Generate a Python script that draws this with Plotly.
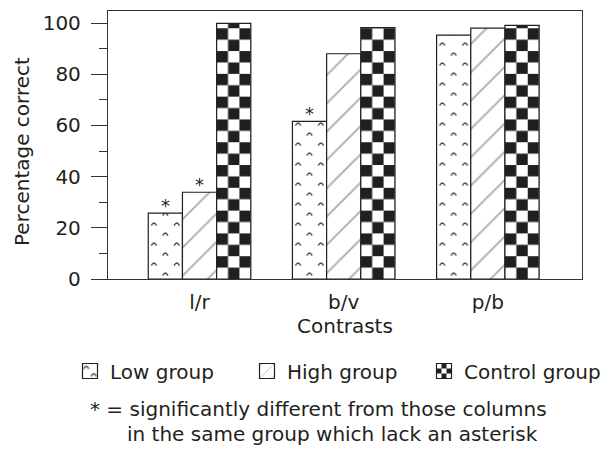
import plotly.graph_objects as go

categories = ["l/r", "b/v", "p/b"]
series_names = ["Low group", "High group", "Control group"]
low_values = [25.7, 61.6, 95.3]
high_values = [33.9, 88.0, 98.0]
control_values = [99.9, 98.2, 99.1]
low_sig = [True, True, False]
high_sig = [True, False, False]
control_sig = [False, False, False]
y_ticks = [0, 20, 40, 60, 80, 100]
y_title = "Percentage correct"
x_title = "Contrasts"
note_line1 = "* = significantly different from those columns"
note_line2 = "in the same group which lack an asterisk"

FONT = "DejaVu Sans"
INK = "#231f20"
FS = 20

# layout geometry (pixels)
W, H = 610, 453
ML, MR, MT, MB = 108, 28, 11, 174
PW = W - ML - MR
PH = H - MT - MB

BARGAP = 0.2885
bar_w = (1 - BARGAP) / 3
xpos = list(range(len(categories)))

fig = go.Figure()
line = dict(color=INK, width=1.2)
fig.add_trace(go.Bar(
    name=series_names[0], x=xpos, y=low_values,
    marker=dict(color="white", line=line,
                pattern=dict(shape=".", size=10, solidity=0.06, fgcolor="#444", bgcolor="white", fillmode="overlay")),
))
fig.add_trace(go.Bar(
    name=series_names[1], x=xpos, y=high_values,
    marker=dict(color="white", line=line,
                pattern=dict(shape="/", size=20, solidity=0.1, fgcolor="#666", bgcolor="white", fillmode="overlay")),
))
fig.add_trace(go.Bar(
    name=series_names[2], x=xpos, y=control_values,
    marker=dict(color="white", line=line,
                pattern=dict(shape="+", size=22, solidity=0.5, fgcolor=INK, bgcolor="white", fillmode="overlay")),
))

annotations = []
for k, (vals, sig) in enumerate([(low_values, low_sig), (high_values, high_sig), (control_values, control_sig)]):
    off = (k - 1) * bar_w
    for i, (v, s) in enumerate(zip(vals, sig)):
        if s:
            annotations.append(dict(
                x=xpos[i] + off, y=v, xref="x", yref="y", text="*", showarrow=False,
                yanchor="middle", xanchor="center", yshift=8,
                font=dict(family=FONT, size=18, color=INK)))

def px_to_paper_x(px):
    return (px - ML) / PW

def px_to_paper_y(py):
    return (MT + PH - py) / PH

annotations.append(dict(
    x=px_to_paper_x(22), y=px_to_paper_y(152), xref="paper", yref="paper",
    text=y_title, textangle=-90, showarrow=False, xanchor="center", yanchor="middle",
    font=dict(family=FONT, size=FS, color=INK)))
annotations.append(dict(
    x=px_to_paper_x(345), y=px_to_paper_y(326), xref="paper", yref="paper",
    text=x_title, showarrow=False, xanchor="center", yanchor="middle",
    font=dict(family=FONT, size=FS, color=INK)))
annotations.append(dict(
    x=px_to_paper_x(88), y=px_to_paper_y(409), xref="paper", yref="paper",
    text=note_line1, showarrow=False, xanchor="left", yanchor="middle",
    font=dict(family=FONT, size=FS, color=INK)))
annotations.append(dict(
    x=px_to_paper_x(125), y=px_to_paper_y(434), xref="paper", yref="paper",
    text=note_line2, showarrow=False, xanchor="left", yanchor="middle",
    font=dict(family=FONT, size=FS, color=INK)))

fig.update_layout(
    width=W, height=H,
    margin=dict(l=ML, r=MR, t=MT, b=MB, autoexpand=False),
    paper_bgcolor="white", plot_bgcolor="white",
    font=dict(family=FONT, size=FS, color=INK),
    barmode="group", bargap=BARGAP, bargroupgap=0,
    showlegend=True,
    legend=dict(orientation="h", x=px_to_paper_x(70), y=px_to_paper_y(371),
                xanchor="left", yanchor="middle", entrywidth=132,
                font=dict(family=FONT, size=FS, color=INK), bgcolor="rgba(0,0,0,0)"),
    annotations=annotations,
)
fig.update_xaxes(
    range=[-0.635, 2.653], tickvals=xpos, ticktext=categories,
    showline=True, mirror=True, linecolor="#333", linewidth=1.3,
    showgrid=False, zeroline=False, ticks="outside", ticklen=5, tickcolor="rgba(0,0,0,0)",
    tickfont=dict(family=FONT, size=FS, color=INK),
)
fig.update_yaxes(
    range=[0, 104.7], tickvals=y_ticks,
    showline=True, mirror=True, linecolor="#333", linewidth=1.3,
    showgrid=False, zeroline=False, ticks="outside", ticklen=16, tickwidth=1.3, tickcolor="#333",
    minor=dict(dtick=10, ticks="outside", ticklen=8, tickwidth=1.3, tickcolor="#333", showgrid=False),
    ticklabelstandoff=6,
    tickfont=dict(family=FONT, size=FS, color=INK),
)

post_js = r"""
(function(){
var gd = document.getElementById('{plot_id}');
var ns = 'http://www.w3.org/2000/svg';
var INK = '#231f20';
function apply(){
  var svg = gd.querySelector('svg.main-svg');
  if(!svg) return;
  var defs = svg.querySelector('defs');
  defs.querySelectorAll('.custom-pat').forEach(function(n){ n.remove(); });
  var cnt = 0;
  function mkPat(x0, y0, w, h, inner){
    var id = 'cpat' + (cnt++);
    var p = document.createElementNS(ns, 'pattern');
    p.setAttribute('id', id);
    p.setAttribute('class', 'custom-pat');
    p.setAttribute('patternUnits', 'userSpaceOnUse');
    p.setAttribute('x', x0); p.setAttribute('y', y0);
    p.setAttribute('width', w); p.setAttribute('height', h);
    p.innerHTML = inner;
    defs.appendChild(p);
    return id;
  }
  function checker(el, s){
    var bb = el.getBBox();
    var inner = '<rect width="'+(2*s)+'" height="'+(2*s)+'" fill="#fff"/>' +
      '<rect x="0" y="0" width="'+s+'" height="'+s+'" fill="'+INK+'"/>' +
      '<rect x="'+s+'" y="'+s+'" width="'+s+'" height="'+s+'" fill="'+INK+'"/>';
    var id = mkPat(bb.x, bb.y + bb.height, 2*s, 2*s, inner);
    el.style.fill = 'url(#' + id + ')';
    el.style.fillOpacity = 1;
  }
  function arcs(el, sx, sy){
    var bb = el.getBBox();
    var w = 2*sx, h = 2*sy;
    function arc(cx, cy){
      return '<path d="M'+(cx-2.6)+','+(cy+1.6)+' Q'+cx+','+(cy-3.6)+' '+(cx+2.6)+','+(cy+1.6)+'" stroke="#444" stroke-width="1.3" fill="none"/>';
    }
    var inner = '<rect width="'+w+'" height="'+h+'" fill="#fff"/>' +
      arc(sx*0.5, sy*0.5) + arc(sx*1.5, sy*1.5);
    var id = mkPat(bb.x, bb.y + bb.height, w, h, inner);
    el.style.fill = 'url(#' + id + ')';
    el.style.fillOpacity = 1;
  }
  var traces = svg.querySelectorAll('.barlayer .trace.bars');
  if(traces.length >= 3){
    traces[0].querySelectorAll('path').forEach(function(p){
      var bb = p.getBBox(); arcs(p, bb.width/3, 10);
    });
    traces[2].querySelectorAll('path').forEach(function(p){
      var bb = p.getBBox(); checker(p, bb.width/3);
    });
  }
  var leg = svg.parentNode.parentNode.querySelectorAll('.legend .traces');
  leg.forEach(function(tr, i){
    var p = tr.querySelector('.legendpoints path');
    if(!p) return;
    p.setAttribute('d', 'M7.5,7.5H-7.5V-7.5H7.5Z');
    if(i === 0) arcs(p, 7.5, 7.5);
    if(i === 2) checker(p, 5);
  });
}
apply();
})();
"""

fig.write_html("out.html", post_script=post_js)
